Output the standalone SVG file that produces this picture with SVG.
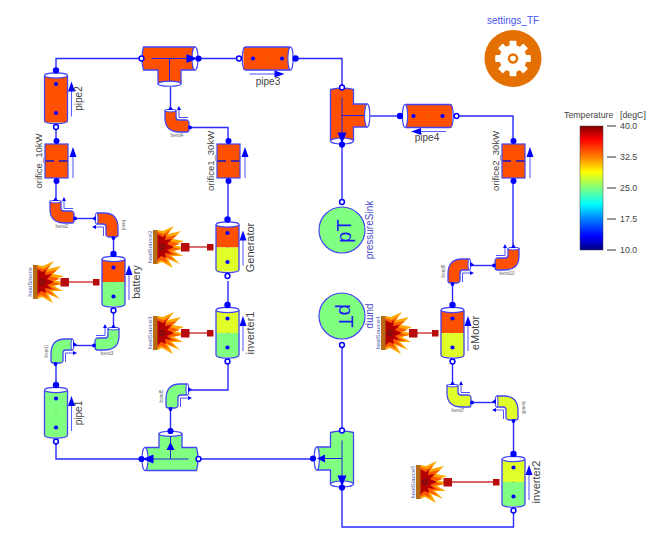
<svg xmlns="http://www.w3.org/2000/svg" width="656" height="536" viewBox="0 0 656 536">
<style>
text{font-family:"Liberation Sans",Arial,sans-serif}
.lbl{font-size:10px;fill:#444;text-anchor:middle}
.ori{font-size:9.5px}
.big{font-size:11px}
.blu{font-size:10px;fill:#4848c8;text-anchor:middle}
.tiny{font-size:4.6px;fill:#666;text-anchor:middle}
.hs{font-size:5.8px;fill:#4a5aa8;text-anchor:middle}
.cb{font-size:8.8px;fill:#444}
.ol{fill:none;stroke:#4444f4;stroke-width:1.3}
.wh{fill:#fff;stroke:#4444f4;stroke-width:1.1}
.pf{fill:#00f}
.po{fill:#fff;stroke:#00f;stroke-width:1.5}
.ar{fill:none;stroke:#6060ff;stroke-width:1.1}
.in{fill:none;stroke:#2222e0;stroke-width:1}
.conn{fill:none;stroke:#2a2aff;stroke-width:1.4}
.hl{stroke:#cc3030;stroke-width:1.4;fill:none}
.hp{fill:#b80c0c}
.or{fill:#ff5000}
.gr{fill:#80ff80}
.ye{fill:#e0ff28}
.pT{font-size:20px;fill:#1a1af0;text-anchor:middle}
</style>
<defs>
<linearGradient id="jet" x1="0" y1="0" x2="0" y2="1">
<stop offset="0" stop-color="#7f0000"/><stop offset=".11" stop-color="#ff0000"/><stop offset=".25" stop-color="#ff7f00"/><stop offset=".37" stop-color="#ffff00"/><stop offset=".5" stop-color="#7fff7f"/><stop offset=".63" stop-color="#00ffff"/><stop offset=".75" stop-color="#007fff"/><stop offset=".89" stop-color="#0000ff"/><stop offset="1" stop-color="#00007f"/>
</linearGradient>
<g id="tube">
<path class="ol" d="M-11.5,-23V22Q-11.5,25 0,25.2Q11.5,25 11.5,22V-23"/>
<ellipse class="wh" cx="0" cy="-23" rx="11.5" ry="2.6"/>
<circle class="pf" cx="0" cy="-28" r="3.2"/>
<circle class="po" cx="0" cy="28.5" r="2.4"/>
<circle class="pf" cx="0" cy="-14.5" r="2.1"/>
<circle class="pf" cx="0" cy="14.5" r="2.1"/>
<rect x="-.6" y="-.4" width="1.2" height=".8" fill="#777"/>
<path class="ar" d="M15.5,18V-8"/>
<path class="pf" d="M15.5,-17L19,-7H12Z"/>
</g>
<g id="orifice">
<rect class="or" x="-11.5" y="-17" width="23" height="34" stroke="#4444f4" stroke-width="1.2"/>
<circle class="pf" cx="0" cy="-20" r="3"/>
<circle class="pf" cx="0" cy="20" r="3"/>
<path d="M-11,0H-2.5M2.5,0H11" stroke="#1414c8" stroke-width="1.6" fill="none"/>
<path class="ar" d="M16.5,17V-7"/>
<path class="pf" d="M16.5,-14L20,-4H13Z"/>
</g>
<g id="bendIcon">
<path stroke="#4444f4" stroke-width="1.3" d="M0,2H11V8Q11,11 14,11H22Q24,12 24,14V20Q24,23 22,23H15Q0,23 0,9Z"/>
<ellipse class="wh" cx="5.5" cy="1.6" rx="5.5" ry="1.4"/>
<path class="pf" d="M5.5,-3L8,1H3Z"/>
<circle class="pf" cx="25" cy="18.5" r="1.9"/>
<path d="M14,1V8.5H23" fill="none" stroke="#5050ff" stroke-width="1"/>
<path class="pf" d="M14,-3L16,1H12Z"/>
</g>
<g id="tee">
<path stroke="#4444f4" stroke-width="1.3" d="M-26,-11.5H25.5V11.5H11.5V25H-11.5V11.5H-26Q-27.5,6 -27.5,0Q-27.5,-6 -26,-11.5Z"/>
<path class="ol" d="M-11.5,25Q0,28 11.5,25"/>
<ellipse class="wh" cx="25.5" cy="0" rx="3" ry="11.5"/>
<ellipse class="wh" cx="0" cy="25.2" rx="11.5" ry="2.6"/>
<circle class="po" cx="-28" cy="0" r="2.4"/>
<circle class="pf" cx="29" cy="0" r="3.1"/>
<path class="in" d="M-18,0H20M0,0V23"/>
<path class="pf" d="M28,0L17,-4.5V4.5Z"/>
</g>
<g id="flame">
<path d="M4,-17L10,-16L21,-21L15,-13L28,-16L20,-8L31,-6L21,-2L33,1L21,4L30,9L19,9L27,17L15,12L20,21L9,15L4,17Z" fill="#ffa800"/>
<path d="M4,-15L11,-13L17,-17L13,-10L24,-12L17,-6L27,-3L18,-.5L28,2L17,4L25,8L16,8L22,14L12,10L15,16L8,13L4,15Z" fill="#ff5a00"/>
<path d="M4,-13L10,-10L13,-13L12,-7L19,-8L14,-3L21,0L14,3L19,7L12,6L13,11L8,9L4,13Z" fill="#b40000"/>
<rect x="0" y="-17" width="4.5" height="34" fill="#b86a14"/>
<circle cx="9" cy="0" r="2.3" fill="none" stroke="#402020" stroke-width=".9"/>
</g>
<rect id="tooth" x="-3.4" y="-17.8" width="6.8" height="7" fill="#fff" rx=".8"/>
</defs>

<g id="connectors">
<path class="conn" d="M56,70V58.5H141.5"/>
<path class="conn" d="M199,58.5H239"/>
<path class="conn" d="M296,58.5H342V87"/>
<path class="conn" d="M342,145V202"/>
<path class="conn" d="M370,116H399"/>
<path class="conn" d="M456,116H513V141"/>
<path class="conn" d="M513,181V247"/>
<path class="conn" d="M494,265.5H472"/>
<path class="conn" d="M452.5,284V305"/>
<path class="conn" d="M452.5,362V384"/>
<path class="conn" d="M472,402.5H495"/>
<path class="conn" d="M513.5,421V454"/>
<path class="conn" d="M513.5,511V527H342V488"/>
<path class="conn" d="M342,430V345"/>
<path class="conn" d="M199,459H313"/>
<path class="conn" d="M56,442V459H142"/>
<path class="conn" d="M170.5,409V431"/>
<path class="conn" d="M190,390H228V362"/>
<path class="conn" d="M228,305V281"/>
<path class="conn" d="M228,181V219"/>
<path class="conn" d="M190,127.5H228V141"/>
<path class="conn" d="M170.5,87V110"/>
<path class="conn" d="M56,127V141"/>
<path class="conn" d="M56,181V200"/>
<path class="conn" d="M75,218.5H95"/>
<path class="conn" d="M113.5,238V253"/>
<path class="conn" d="M113.5,310V327"/>
<path class="conn" d="M95,345.5H75"/>
<path class="conn" d="M56,364V385"/>
<path class="hl" d="M69,282H94"/>
<path class="hl" d="M189,247H208"/>
<path class="hl" d="M189,333H208"/>
<path class="hl" d="M417,333H433"/>
<path class="hl" d="M451,482H494"/>
</g>

<g id="pipe2" transform="translate(56,98.5)"><rect class="or" x="-11.5" y="-23" width="23" height="47"/><use href="#tube"/><text class="lbl" transform="translate(26,0) rotate(-90)">pipe2</text></g>
<g id="orifice_10kW" transform="translate(56.5,161)"><use href="#orifice"/><text class="lbl ori" transform="translate(-14.5,0) rotate(-90)">orifice_10kW</text></g>
<g id="orifice1_30kW" transform="translate(228.5,161)"><use href="#orifice"/><text class="lbl ori" transform="translate(-14.5,0) rotate(-90)">orifice1_30kW</text></g>
<g id="orifice2_30kW" transform="translate(513.5,161)"><use href="#orifice"/><text class="lbl ori" transform="translate(-14.5,0) rotate(-90)">orifice2_30kW</text></g>

<g id="teeTop" transform="translate(169.5,58.5)"><use href="#tee" class="or"/></g>
<g id="teeSink" transform="matrix(0,1,1,0,342,115.5)"><use href="#tee" class="or"/></g>
<g id="teeBottom" transform="translate(170.5,459) rotate(180)"><use href="#tee" class="gr"/><circle class="pf" cx="0" cy="28" r="3.1"/><path class="pf" d="M0,17L4,9H-4Z"/></g>
<g id="teeReturn" transform="matrix(0,1,-1,0,342,458.5)"><use href="#tee" class="gr"/><circle class="pf" cx="0" cy="29" r="3.1"/><path class="pf" d="M0,25L4,17H-4Z"/></g>

<g id="pipe3" transform="translate(267.5,58.5) rotate(90)"><rect class="or" x="-11.5" y="-23" width="23" height="47"/><use href="#tube"/></g>
<text class="lbl" x="268" y="85">pipe3</text>
<g id="pipe4" transform="matrix(0,1,1,0,428,116)"><rect class="or" x="-11.5" y="-23" width="23" height="47"/><use href="#tube"/></g>
<text class="lbl" x="427" y="141">pipe4</text>

<g id="pipe1" transform="translate(56,413)"><rect class="gr" x="-11.5" y="-23" width="23" height="47"/><use href="#tube"/><text class="lbl" transform="translate(26,0) rotate(-90)">pipe1</text></g>

<g id="battery" transform="translate(113.5,282)"><rect class="or" x="-11.5" y="-23" width="23" height="23"/><rect class="gr" x="-11.5" y="0" width="23" height="24"/><use href="#tube"/><text class="lbl big" transform="translate(26,0) rotate(-90)">battery</text></g>
<g id="Generator" transform="translate(227.5,247.500)"><rect class="or" x="-11.5" y="-23" width="23" height="23"/><rect class="ye" x="-11.5" y="0" width="23" height="24"/><use href="#tube"/><text class="lbl big" transform="translate(26,0) rotate(-90)">Generator</text></g>
<g id="inverter1" transform="translate(227.5,333)"><rect class="ye" x="-11.5" y="-23" width="23" height="23"/><rect class="gr" x="-11.5" y="0" width="23" height="24"/><use href="#tube"/><text class="lbl big" transform="translate(26,0) rotate(-90)">inverter1</text></g>
<g id="eMotor" transform="translate(452.5,333)"><rect class="or" x="-11.5" y="-23" width="23" height="23"/><rect class="ye" x="-11.5" y="0" width="23" height="24"/><use href="#tube"/><text class="lbl big" transform="translate(26,0) rotate(-90)">eMotor</text></g>
<g id="inverter2" transform="translate(513.5,482)"><rect class="ye" x="-11.5" y="-23" width="23" height="23"/><rect class="gr" x="-11.5" y="0" width="23" height="24"/><use href="#tube"/><text class="lbl big" transform="translate(26,0) rotate(-90)">inverter2</text></g>

<g id="bend4" transform="translate(165,109)"><use href="#bendIcon" class="or"/></g><text class="tiny" x="177" y="137">bend4</text>
<g id="bend2" transform="translate(50,200)"><use href="#bendIcon" class="or"/></g><text class="tiny" x="62" y="228">bend2</text>
<g id="bend7" transform="translate(447,384)"><use href="#bendIcon" class="ye"/></g><text class="tiny" x="458" y="412">bend7</text>
<g id="bend3" transform="matrix(-1,0,0,1,119,327)"><use href="#bendIcon" class="gr"/></g><text class="tiny" x="107" y="354.500">bend3</text>
<g id="bend10" transform="matrix(-1,0,0,1,519,247)"><use href="#bendIcon" class="or"/></g><text class="tiny" x="507" y="274.500">bend10</text>
<g id="bend" transform="matrix(0,1,1,0,95,213)"><use href="#bendIcon" class="or"/></g><text class="tiny" transform="translate(122,225) rotate(90)">bend</text>
<g id="bend6" transform="matrix(0,1,1,0,495,396)"><use href="#bendIcon" class="ye"/></g><text class="tiny" transform="translate(522,408) rotate(90)">bend6</text>
<g id="bend1" transform="matrix(0,1,-1,0,74,339)"><use href="#bendIcon" class="gr"/></g><text class="tiny" transform="translate(48,351) rotate(-90)">bend1</text>
<g id="bend5" transform="matrix(0,1,-1,0,189,384)"><use href="#bendIcon" class="gr"/></g><text class="tiny" transform="translate(163,396) rotate(-90)">bend5</text>
<g id="bend8" transform="matrix(0,1,-1,0,471,259)"><use href="#bendIcon" class="or"/></g><text class="tiny" transform="translate(445,271) rotate(-90)">bend8</text>

<g id="heatSource1"><use href="#flame" transform="translate(33,282)"/><rect class="hp" x="60.500" y="278" width="8.500" height="8.500"/><rect class="hp" x="93" y="279" width="6.500" height="6.500"/><text class="hs" transform="translate(32,282) rotate(-90)">heatSource</text></g>
<g id="heatSource2"><use href="#flame" transform="translate(153,247)"/><rect class="hp" x="181" y="243" width="8.500" height="8.500"/><rect class="hp" x="207" y="244" width="6.500" height="6.500"/><text class="hs" transform="translate(152,247) rotate(-90)">heatSource2</text></g>
<g id="heatSource3"><use href="#flame" transform="translate(153,333)"/><rect class="hp" x="181" y="329" width="8.500" height="8.500"/><rect class="hp" x="207" y="330" width="6.500" height="6.500"/><text class="hs" transform="translate(152,333) rotate(-90)">heatSource3</text></g>
<g id="heatSource4"><use href="#flame" transform="translate(381,333)"/><rect class="hp" x="409" y="329" width="8.500" height="8.500"/><rect class="hp" x="432" y="330" width="6.500" height="6.500"/><text class="hs" transform="translate(380,333) rotate(-90)">heatSource4</text></g>
<g id="heatSource5"><use href="#flame" transform="translate(416,482)"/><rect class="hp" x="443.500" y="478" width="8.500" height="8.500"/><rect class="hp" x="493" y="479" width="6.500" height="6.500"/><text class="hs" transform="translate(415,482) rotate(-90)">heatSource5</text></g>

<g id="pressureSink"><circle cx="342" cy="230" r="23" fill="#80ff80" stroke="#4444f4" stroke-width="1.2"/><circle class="po" cx="342" cy="202" r="2.4"/><text class="pT" transform="translate(351,231) rotate(-90)">pT</text><text class="blu" transform="translate(373,230) rotate(-90)">pressureSink</text></g>
<g id="pump"><circle cx="342" cy="316" r="23" fill="#80ff80" stroke="#4444f4" stroke-width="1.2"/><circle class="po" cx="342" cy="345" r="2.4"/><text class="pT" transform="translate(339,316) rotate(90)">pT</text><text class="blu" transform="translate(367,316) rotate(90)">pump</text></g>

<g id="settings_TF"><text class="blu" x="513" y="23.500" style="fill:#4a55f0">settings_TF</text><circle cx="513" cy="58.500" r="28.500" fill="#e37000"/>
<g transform="translate(513,58.500)"><circle r="13.500" fill="#fff"/><use href="#tooth"/><use href="#tooth" transform="rotate(45)"/><use href="#tooth" transform="rotate(90)"/><use href="#tooth" transform="rotate(135)"/><use href="#tooth" transform="rotate(180)"/><use href="#tooth" transform="rotate(225)"/><use href="#tooth" transform="rotate(270)"/><use href="#tooth" transform="rotate(315)"/><circle r="5.200" fill="#e37000"/><circle r="2.800" fill="#fff"/></g></g>

<g id="colorbar">
<text class="cb" x="564" y="118">Temperature</text><text class="cb" x="620" y="118">[degC]</text>
<rect x="580" y="126" width="23" height="124" fill="url(#jet)" stroke="#444" stroke-width=".5"/>
<path d="M607,126H616M607,157H616M607,188H616M607,219H616M607,250H616" stroke="#333" stroke-width="1"/>
<text class="cb" x="620" y="129">40.0</text><text class="cb" x="620" y="160">32.5</text><text class="cb" x="620" y="191">25.0</text><text class="cb" x="620" y="222">17.5</text><text class="cb" x="620" y="253">10.0</text>
</g>
</svg>
